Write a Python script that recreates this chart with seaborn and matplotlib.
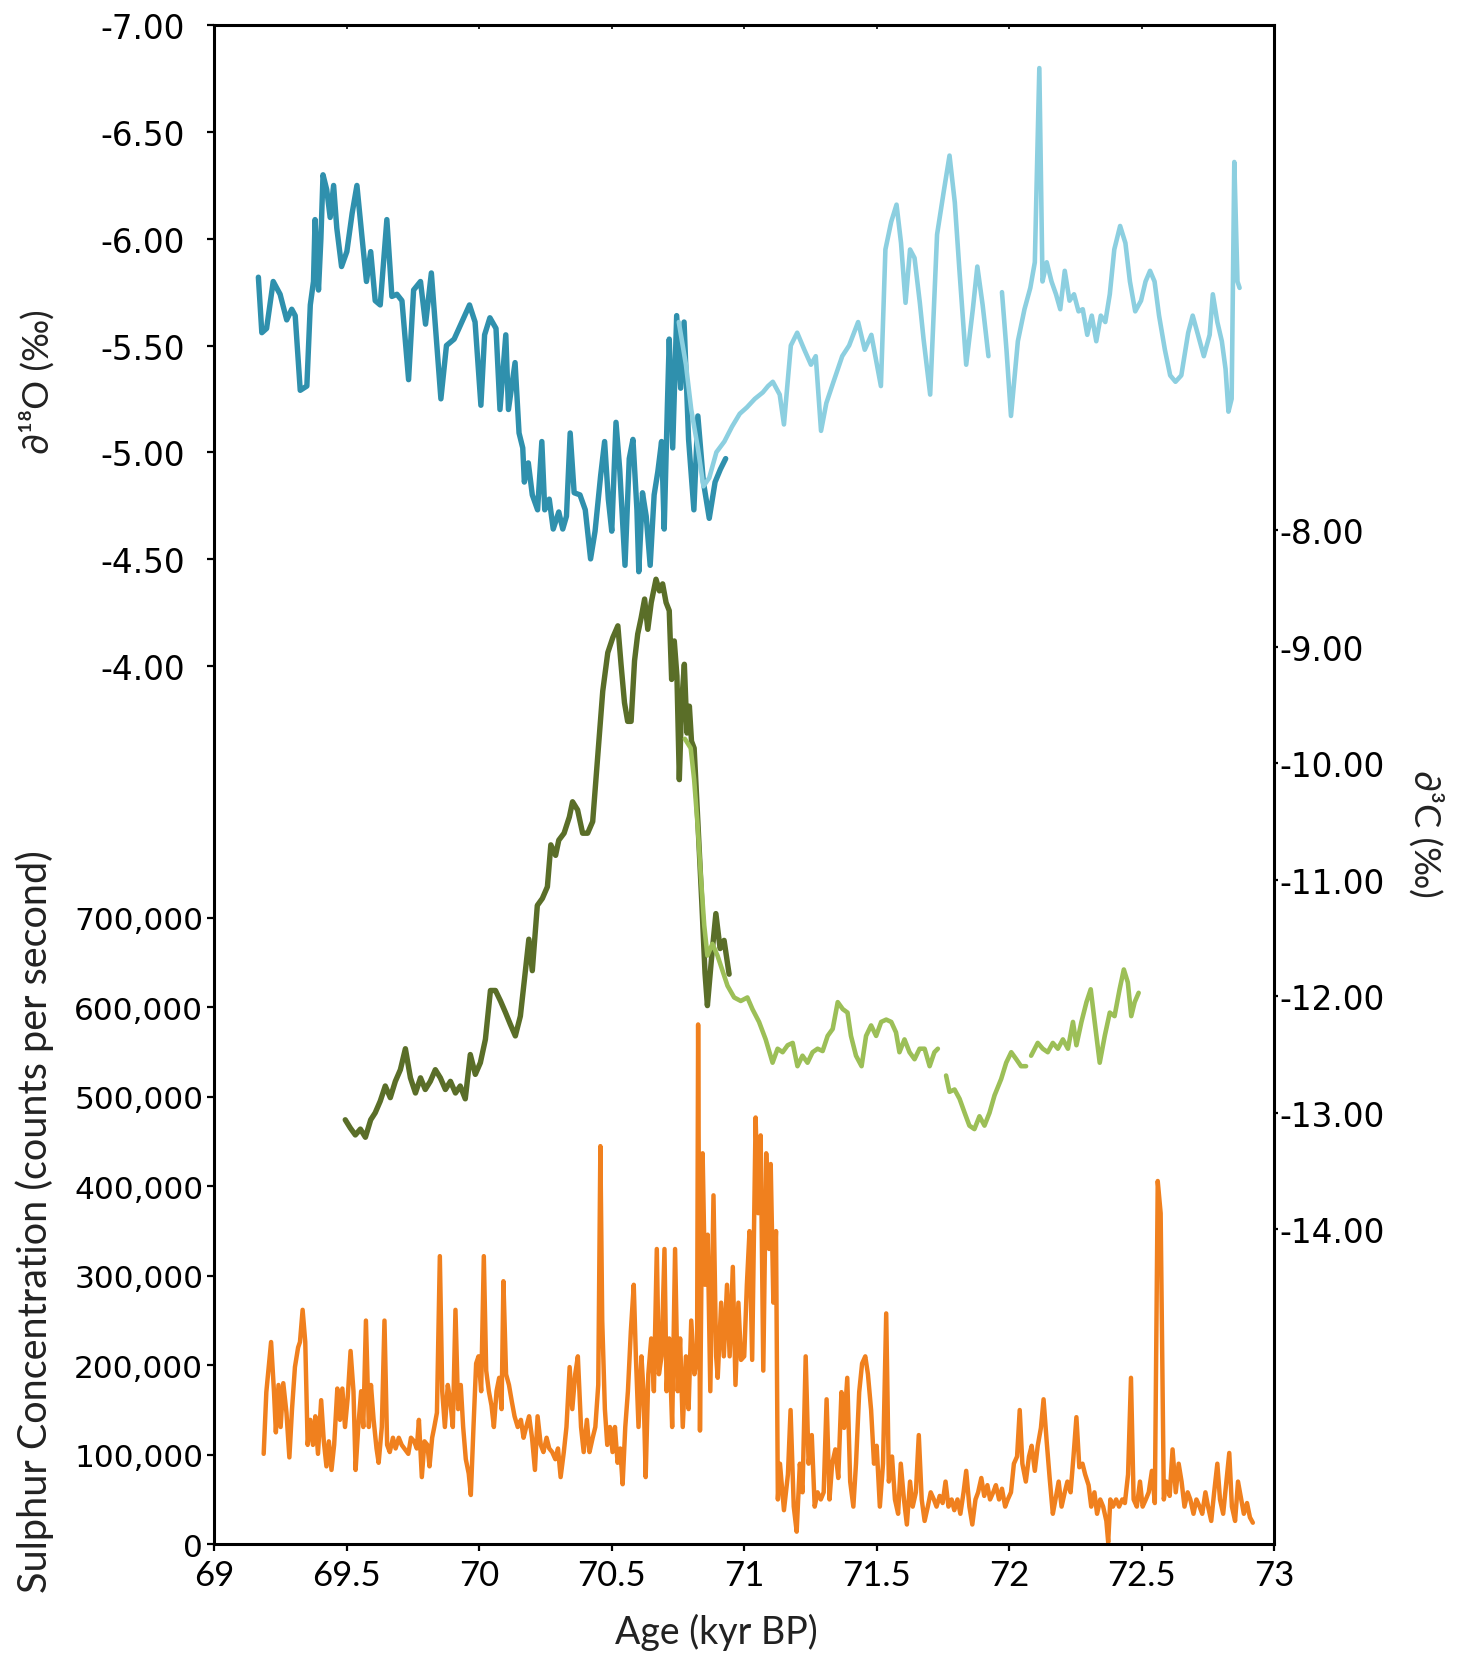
import matplotlib
matplotlib.use("Agg")
import matplotlib.pyplot as plt
import numpy as np
import pandas as pd
import seaborn as sns

# ---------------------------------------------------------------- data
# delta-18O, first record (dark teal)
d18o_a_age = [69.166, 69.179, 69.197, 69.222, 69.248, 69.273, 69.292, 69.305, 69.324, 69.349,
              69.362, 69.374, 69.380, 69.393, 69.402, 69.410, 69.424, 69.437, 69.450, 69.462,
              69.480, 69.500, 69.520, 69.538, 69.557, 69.574, 69.590, 69.607, 69.626, 69.651,
              69.670, 69.689, 69.708, 69.733, 69.752, 69.778, 69.797, 69.819, 69.855, 69.876,
              69.905, 69.934, 69.963, 69.984, 70.006, 70.020, 70.040, 70.063, 70.078, 70.100,
              70.110, 70.135, 70.150, 70.164, 70.170, 70.185, 70.200, 70.220, 70.236, 70.247,
              70.264, 70.279, 70.300, 70.315, 70.329, 70.343, 70.358, 70.380, 70.400, 70.420,
              70.437, 70.458, 70.473, 70.487, 70.500, 70.516, 70.530, 70.550, 70.566, 70.580,
              70.595, 70.602, 70.616, 70.630, 70.645, 70.660, 70.674, 70.688, 70.698, 70.710,
              70.717, 70.730, 70.745, 70.760, 70.773, 70.790, 70.810, 70.825, 70.846, 70.868,
              70.890, 70.910, 70.930]
d18o_a_val = [-5.82, -5.56, -5.58, -5.80, -5.74, -5.62, -5.67, -5.64, -5.29, -5.31,
              -5.69, -5.80, -6.09, -5.76, -6.00, -6.30, -6.23, -6.10, -6.25, -6.05,
              -5.87, -5.94, -6.12, -6.25, -6.01, -5.80, -5.94, -5.71, -5.69, -6.09,
              -5.73, -5.74, -5.71, -5.34, -5.76, -5.80, -5.60, -5.84, -5.25, -5.50,
              -5.53, -5.61, -5.69, -5.61, -5.22, -5.55, -5.63, -5.58, -5.20, -5.55,
              -5.20, -5.42, -5.09, -5.02, -4.86, -4.95, -4.80, -4.73, -5.05, -4.73,
              -4.78, -4.64, -4.72, -4.64, -4.70, -5.09, -4.81, -4.80, -4.73, -4.50,
              -4.63, -4.89, -5.05, -4.78, -4.63, -5.14, -4.92, -4.47, -4.97, -5.06,
              -4.73, -4.44, -4.81, -4.70, -4.47, -4.80, -4.91, -5.05, -4.64, -5.22,
              -5.53, -5.02, -5.64, -5.30, -5.61, -5.06, -4.73, -5.17, -4.86, -4.69,
              -4.86, -4.92, -4.97]

# delta-18O, second record (light blue); NaN marks a hiatus
d18o_b_age = [70.753, 70.780, 70.800, 70.825, 70.846, 70.868, 70.895, 70.925, 70.954, 70.983,
              71.010, 71.040, 71.070, 71.090, 71.108, 71.134, 71.150, 71.176, 71.200, 71.227,
              71.252, 71.270, 71.290, 71.310, 71.337, 71.370, 71.396, 71.430, 71.455, 71.480,
              71.516, 71.533, 71.555, 71.575, 71.592, 71.609, 71.626, 71.643, 71.663, 71.677,
              71.702, 71.728, 71.753, 71.775, 71.795, 71.812, 71.838, 71.863, 71.880, 71.900,
              71.922, 71.950, 71.973, 71.990, 72.007, 72.033, 72.058, 72.080, 72.097, 72.114,
              72.126, 72.142, 72.160, 72.177, 72.193, 72.210, 72.228, 72.245, 72.262, 72.278,
              72.295, 72.312, 72.329, 72.346, 72.363, 72.380, 72.397, 72.419, 72.439, 72.456,
              72.476, 72.498, 72.515, 72.532, 72.549, 72.566, 72.588, 72.608, 72.628, 72.650,
              72.676, 72.693, 72.713, 72.735, 72.757, 72.769, 72.786, 72.803, 72.817, 72.828,
              72.840, 72.850, 72.862, 72.870]
d18o_b_val = [-5.61, -5.41, -5.20, -5.02, -4.84, -4.88, -5.00, -5.05, -5.12, -5.18,
              -5.21, -5.25, -5.28, -5.31, -5.33, -5.27, -5.13, -5.50, -5.56, -5.48,
              -5.41, -5.45, -5.10, -5.23, -5.33, -5.45, -5.50, -5.61, -5.48, -5.55,
              -5.31, -5.95, -6.08, -6.16, -5.98, -5.70, -5.95, -5.91, -5.70, -5.53,
              -5.27, -6.02, -6.22, -6.39, -6.17, -5.86, -5.41, -5.67, -5.87, -5.69,
              -5.45, np.nan, -5.75, -5.48, -5.17, -5.52, -5.67, -5.77, -5.89, -6.80,
              -5.80, -5.89, -5.80, -5.74, -5.67, -5.85, -5.71, -5.74, -5.66, -5.67,
              -5.55, -5.64, -5.52, -5.64, -5.61, -5.74, -5.95, -6.06, -5.98, -5.80,
              -5.66, -5.71, -5.80, -5.85, -5.80, -5.64, -5.48, -5.36, -5.33, -5.36,
              -5.56, -5.64, -5.55, -5.45, -5.55, -5.74, -5.61, -5.52, -5.39, -5.19,
              -5.25, -6.36, -5.80, -5.77]

# delta-13C, first record (dark olive)
d13c_a_age = [69.494, 69.513, 69.532, 69.551, 69.570, 69.590, 69.607, 69.626, 69.645, 69.664,
              69.683, 69.702, 69.721, 69.740, 69.759, 69.778, 69.796, 69.815, 69.834, 69.853,
              69.872, 69.891, 69.910, 69.928, 69.947, 69.966, 69.985, 70.004, 70.023, 70.042,
              70.061, 70.080, 70.099, 70.117, 70.136, 70.155, 70.174, 70.187, 70.200, 70.219,
              70.238, 70.257, 70.270, 70.288, 70.300, 70.320, 70.340, 70.352, 70.371, 70.390,
              70.409, 70.428, 70.447, 70.466, 70.485, 70.504, 70.523, 70.535, 70.548, 70.560,
              70.573, 70.586, 70.598, 70.611, 70.624, 70.636, 70.649, 70.667, 70.680, 70.692,
              70.705, 70.717, 70.726, 70.736, 70.746, 70.755, 70.764, 70.774, 70.784, 70.793,
              70.801, 70.811, 70.825, 70.840, 70.852, 70.861, 70.876, 70.893, 70.909, 70.924,
              70.943]
d13c_a_val = [-13.06, -13.13, -13.19, -13.14, -13.21, -13.06, -13.00, -12.90, -12.77, -12.87,
              -12.73, -12.63, -12.45, -12.70, -12.83, -12.70, -12.80, -12.73, -12.63, -12.70,
              -12.80, -12.73, -12.83, -12.77, -12.88, -12.50, -12.67, -12.57, -12.37, -11.95,
              -11.95, -12.04, -12.14, -12.24, -12.34, -12.17, -11.78, -11.51, -11.78, -11.22,
              -11.16, -11.06, -10.70, -10.79, -10.66, -10.60, -10.46, -10.33, -10.40, -10.60,
              -10.60, -10.50, -9.94, -9.38, -9.05, -8.92, -8.82, -9.15, -9.48, -9.64,
              -9.64, -9.12, -8.89, -8.75, -8.59, -8.85, -8.62, -8.42, -8.52, -8.46,
              -8.62, -8.69, -9.28, -8.95, -9.25, -10.14, -9.48, -9.15, -9.74, -9.51,
              -9.81, -9.87, -10.50, -11.20, -11.80, -12.08, -11.69, -11.29, -11.59, -11.52,
              -11.81]

# delta-13C, second record (light green); NaN marks a hiatus
d13c_b_age = [70.776, 70.798, 70.811, 70.824, 70.836, 70.849, 70.861, 70.880, 70.899, 70.918,
              70.937, 70.962, 70.987, 71.012, 71.031, 71.056, 71.081, 71.107, 71.126, 71.145,
              71.164, 71.183, 71.201, 71.220, 71.239, 71.258, 71.277, 71.296, 71.315, 71.334,
              71.353, 71.372, 71.390, 71.403, 71.422, 71.443, 71.460, 71.479, 71.498, 71.517,
              71.536, 71.555, 71.573, 71.586, 71.605, 71.624, 71.643, 71.662, 71.681, 71.700,
              71.718, 71.731, 71.746, 71.762, 71.775, 71.794, 71.813, 71.832, 71.850, 71.869,
              71.888, 71.907, 71.926, 71.945, 71.970, 71.989, 72.008, 72.027, 72.045, 72.064,
              72.073, 72.083, 72.108, 72.127, 72.146, 72.165, 72.184, 72.203, 72.222, 72.241,
              72.254, 72.273, 72.292, 72.308, 72.323, 72.342, 72.361, 72.380, 72.398, 72.417,
              72.433, 72.448, 72.461, 72.474, 72.489]
d13c_b_val = [-9.79, -9.87, -10.14, -10.53, -10.96, -11.39, -11.65, -11.55, -11.65, -11.78,
              -11.91, -12.01, -12.04, -12.01, -12.11, -12.22, -12.37, -12.57, -12.45, -12.48,
              -12.42, -12.40, -12.60, -12.51, -12.57, -12.48, -12.45, -12.47, -12.34, -12.28,
              -12.05, -12.11, -12.14, -12.34, -12.51, -12.60, -12.34, -12.25, -12.34, -12.22,
              -12.20, -12.22, -12.31, -12.48, -12.37, -12.48, -12.54, -12.45, -12.45, -12.60,
              -12.48, -12.45, np.nan, -12.68, -12.82, -12.80, -12.88, -13.00, -13.11, -13.14,
              -13.03, -13.11, -13.00, -12.85, -12.71, -12.57, -12.48, -12.54, -12.60, -12.60,
              np.nan, -12.51, -12.40, -12.45, -12.48, -12.40, -12.45, -12.37, -12.45, -12.22,
              -12.42, -12.22, -12.05, -11.94, -12.22, -12.57, -12.34, -12.14, -12.17, -11.94,
              -11.77, -11.88, -12.17, -12.05, -11.97]

# Sulphur concentration (thousand counts per second)
sulphur_age = [69.186, 69.196, 69.214, 69.225, 69.232, 69.242, 69.250, 69.260, 69.272, 69.283,
               69.293, 69.304, 69.316, 69.323, 69.333, 69.343, 69.352, 69.362, 69.372, 69.381,
               69.391, 69.403, 69.413, 69.423, 69.432, 69.442, 69.452, 69.464, 69.474, 69.483,
               69.493, 69.503, 69.514, 69.525, 69.533, 69.543, 69.554, 69.562, 69.572, 69.583,
               69.591, 69.601, 69.612, 69.620, 69.632, 69.642, 69.652, 69.662, 69.674, 69.684,
               69.696, 69.707, 69.717, 69.732, 69.742, 69.754, 69.764, 69.772, 69.783, 69.793,
               69.804, 69.812, 69.822, 69.830, 69.840, 69.851, 69.860, 69.870, 69.881, 69.891,
               69.900, 69.910, 69.920, 69.930, 69.939, 69.949, 69.960, 69.968, 69.978, 69.988,
               69.997, 70.007, 70.017, 70.026, 70.036, 70.046, 70.055, 70.065, 70.075, 70.084,
               70.091, 70.101, 70.112, 70.123, 70.133, 70.145, 70.157, 70.167, 70.177, 70.188,
               70.199, 70.210, 70.220, 70.232, 70.242, 70.254, 70.264, 70.275, 70.287, 70.297,
               70.307, 70.319, 70.329, 70.341, 70.351, 70.362, 70.372, 70.384, 70.394, 70.406,
               70.416, 70.428, 70.438, 70.449, 70.457, 70.464, 70.474, 70.483, 70.493, 70.503,
               70.512, 70.522, 70.532, 70.541, 70.551, 70.561, 70.572, 70.583, 70.591, 70.601,
               70.612, 70.620, 70.628, 70.638, 70.649, 70.659, 70.670, 70.678, 70.688, 70.699,
               70.707, 70.717, 70.728, 70.739, 70.749, 70.758, 70.768, 70.780, 70.790, 70.800,
               70.812, 70.822, 70.826, 70.833, 70.843, 70.852, 70.862, 70.872, 70.884, 70.894,
               70.900, 70.913, 70.923, 70.935, 70.945, 70.957, 70.967, 70.978, 70.988, 71.000,
               71.010, 71.020, 71.030, 71.043, 71.053, 71.062, 71.072, 71.083, 71.094, 71.100,
               71.110, 71.120, 71.127, 71.135, 71.150, 71.165, 71.175, 71.187, 71.198, 71.210,
               71.220, 71.232, 71.243, 71.255, 71.266, 71.277, 71.289, 71.300, 71.311, 71.322,
               71.332, 71.344, 71.355, 71.367, 71.377, 71.389, 71.400, 71.412, 71.422, 71.434,
               71.445, 71.457, 71.467, 71.479, 71.490, 71.500, 71.512, 71.524, 71.536, 71.546,
               71.558, 71.569, 71.581, 71.591, 71.603, 71.614, 71.626, 71.636, 71.648, 71.659,
               71.670, 71.681, 71.693, 71.704, 71.716, 71.726, 71.738, 71.749, 71.760, 71.771,
               71.783, 71.793, 71.805, 71.816, 71.828, 71.838, 71.850, 71.861, 71.873, 71.883,
               71.895, 71.906, 71.918, 71.928, 71.940, 71.950, 71.962, 71.973, 71.985, 71.995,
               72.007, 72.018, 72.030, 72.040, 72.050, 72.063, 72.075, 72.085, 72.097, 72.108,
               72.120, 72.130, 72.142, 72.153, 72.165, 72.175, 72.187, 72.198, 72.210, 72.220,
               72.232, 72.243, 72.254, 72.265, 72.277, 72.287, 72.300, 72.310, 72.322, 72.332,
               72.344, 72.355, 72.367, 72.374, 72.382, 72.392, 72.404, 72.415, 72.427, 72.437,
               72.449, 72.460, 72.470, 72.482, 72.494, 72.504, 72.516, 72.527, 72.539, 72.550,
               72.561, 72.572, 72.584, 72.594, 72.606, 72.617, 72.629, 72.640, 72.651, 72.662,
               72.674, 72.684, 72.696, 72.707, 72.719, 72.729, 72.741, 72.751, 72.763, 72.774,
               72.786, 72.796, 72.808, 72.819, 72.831, 72.841, 72.853, 72.864, 72.876, 72.886,
               72.898, 72.909, 72.920]
sulphur_kcps = [101, 170, 226, 170, 125, 178, 131, 180, 147, 97,
                151, 198, 220, 226, 262, 226, 111, 139, 111, 143,
                101, 161, 115, 87, 115, 83, 111, 174, 139, 174,
                131, 163, 216, 171, 83, 131, 171, 131, 250, 131,
                178, 139, 107, 91, 131, 250, 111, 103, 119, 107,
                119, 111, 107, 101, 119, 115, 107, 139, 75, 115,
                111, 87, 119, 131, 147, 322, 171, 131, 178, 159,
                131, 262, 151, 178, 131, 95, 79, 55, 131, 202,
                210, 171, 322, 194, 171, 155, 131, 171, 186, 151,
                294, 190, 178, 159, 143, 131, 139, 119, 131, 143,
                119, 83, 143, 111, 103, 119, 107, 103, 95, 107,
                75, 103, 131, 198, 151, 190, 210, 131, 103, 139,
                103, 119, 131, 178, 445, 250, 151, 111, 131, 103,
                131, 91, 107, 67, 131, 171, 238, 290, 210, 131,
                210, 171, 75, 190, 230, 171, 330, 190, 210, 330,
                171, 230, 131, 330, 171, 230, 131, 210, 151, 250,
                190, 210, 581, 127, 437, 290, 346, 171, 390, 210,
                186, 270, 210, 290, 210, 310, 178, 270, 206, 210,
                290, 350, 206, 477, 370, 457, 194, 437, 330, 425,
                270, 350, 50, 90, 38, 78, 150, 42, 14, 90,
                58, 210, 90, 122, 42, 58, 50, 58, 162, 50,
                90, 106, 74, 170, 130, 186, 70, 42, 90, 170,
                202, 210, 190, 150, 90, 110, 42, 90, 258, 70,
                98, 50, 34, 90, 50, 22, 70, 42, 58, 122,
                50, 26, 42, 58, 50, 42, 54, 46, 70, 42,
                50, 38, 50, 34, 58, 82, 42, 22, 50, 58,
                74, 54, 66, 50, 58, 66, 50, 62, 42, 50,
                58, 90, 98, 150, 90, 70, 98, 110, 82, 110,
                130, 162, 114, 74, 34, 50, 70, 42, 58, 70,
                58, 98, 142, 86, 90, 78, 66, 42, 58, 34,
                50, 42, 26, 2, 50, 42, 50, 42, 50, 46,
                78, 186, 50, 42, 70, 42, 50, 58, 82, 46,
                406, 370, 50, 70, 54, 106, 58, 90, 70, 42,
                58, 50, 34, 50, 42, 34, 58, 42, 26, 58,
                90, 50, 34, 66, 102, 42, 26, 70, 50, 34,
                46, 30, 24]

# axis ticks
age_ticks = [69, 69.5, 70, 70.5, 71, 71.5, 72, 72.5, 73]
age_tick_labels = ["69", "69.5", "70", "70.5", "71", "71.5", "72", "72.5", "73"]
d18o_ticks = [-7.0, -6.5, -6.0, -5.5, -5.0, -4.5, -4.0]
d18o_tick_labels = ["-7.00", "-6.50", "-6.00", "-5.50", "-5.00", "-4.50", "-4.00"]
sulphur_ticks = [0, 100000, 200000, 300000, 400000, 500000, 600000, 700000]
sulphur_tick_labels = ["0", "100,000", "200,000", "300,000", "400,000",
                       "500,000", "600,000", "700,000"]
d13c_ticks = [-8, -9, -10, -11, -12, -13, -14]
d13c_tick_labels = ["-8.00", "-9.00", "-10.00", "-11.00", "-12.00", "-13.00", "-14.00"]

# ---------------------------------------------------------------- style
sns.set_theme(style="white")
plt.rcParams["font.family"] = ["DejaVu Sans"]
plt.rcParams["axes.unicode_minus"] = False
plt.rcParams["lines.solid_joinstyle"] = "round"
plt.rcParams["lines.solid_capstyle"] = "round"
NARROW = ["Lato", "DejaVu Sans"]

C_TEAL, C_SKY = "#2f90ad", "#8ccfe0"
C_OLIVE, C_LIME = "#5a6e28", "#9cbf57"
C_ORANGE = "#f0801e"


def frame(age, val):
    """Long table with a segment id that increments after every NaN gap."""
    val = np.asarray(val, dtype=float)
    seg = np.cumsum(np.isnan(val))
    df = pd.DataFrame({"age": age, "value": val, "seg": seg})
    return df.dropna()


def draw(df, ax, color, lw, z=2):
    sns.lineplot(data=df, x="age", y="value", units="seg", estimator=None,
                 sort=False, color=color, linewidth=lw, ax=ax, legend=False,
                 zorder=z)


fig = plt.figure(figsize=(14.66, 16.56), dpi=100)
ax_s = fig.add_axes([0.14625, 0.06691, 0.7228, 0.91715])
ax_c = ax_s.twinx()
ax_o = ax_s.twinx()

# sulphur (bottom layer)
sul = pd.DataFrame({"age": sulphur_age,
                    "value": np.asarray(sulphur_kcps, dtype=float) * 1000,
                    "seg": 0})
draw(sul, ax_s, C_ORANGE, 3.2)

# delta-13C
draw(frame(d13c_a_age, d13c_a_val), ax_c, C_OLIVE, 3.9)
draw(frame(d13c_b_age, d13c_b_val), ax_c, C_LIME, 3.3)

# delta-18O
draw(frame(d18o_a_age, d18o_a_val), ax_o, C_TEAL, 3.9)
draw(frame(d18o_b_age, d18o_b_val), ax_o, C_SKY, 3.3)

# ---------------------------------------------------------------- axes
ax_s.set_xlim(69, 73)
ax_s.set_ylim(0, 1697800)
ax_c.set_ylim(-16.703, -3.666)
ax_o.set_ylim(0.117, -7.0)

for a in (ax_s, ax_c, ax_o):
    a.set_xlabel("")
    a.set_ylabel("")
    a.grid(False)
    a.patch.set_visible(False)
    for sp in a.spines.values():
        sp.set_visible(False)

for side in ("left", "right", "top", "bottom"):
    ax_s.spines[side].set_visible(True)
    ax_s.spines[side].set_color("black")
    ax_s.spines[side].set_linewidth(2.2)

# x axis
ax_s.set_xticks(age_ticks)
ax_s.set_xticklabels(age_tick_labels, family=NARROW, fontsize=25)
ax_s.tick_params(axis="x", bottom=True, direction="out", length=5, width=1.6,
                 pad=6, colors="black")
top = ax_s.secondary_xaxis("top")
top.set_xticks(age_ticks)
top.tick_params(axis="x", direction="in", length=3, width=1.4, labeltop=False)
top.spines["top"].set_visible(False)

# sulphur axis (left, lower)
ax_s.set_yticks(sulphur_ticks)
ax_s.set_yticklabels(sulphur_tick_labels, fontsize=22.5)
ax_s.tick_params(axis="y", left=True, direction="out", length=5, width=1.6,
                 pad=3, colors="black")

# delta-18O axis (left, upper)
ax_o.yaxis.tick_left()
ax_o.set_yticks(d18o_ticks)
ax_o.set_yticklabels(d18o_tick_labels, fontsize=23.5)
ax_o.tick_params(axis="y", left=True, right=False, labelleft=True, labelright=False,
                 direction="out", length=5, width=1.6, pad=16, colors="black")

# delta-13C axis (right)
ax_c.yaxis.tick_right()
ax_c.set_yticks(d13c_ticks)
ax_c.set_yticklabels(d13c_tick_labels, fontsize=23.5)
ax_c.tick_params(axis="y", right=True, direction="out", length=3, width=1.6,
                 pad=1, colors="black")

# axis titles
fig.text(0.0252, 0.7693, "∂¹⁸O (‰)", rotation=90, ha="center", va="center",
         family=NARROW, fontsize=26, color="#222222")
fig.text(0.0239, 0.2625, "Sulphur Concentration (counts per second)", rotation=90,
         ha="center", va="center", family=NARROW, fontsize=28.5, color="#222222")
fig.text(0.9727, 0.4964, "∂³C (‰)", rotation=-90, ha="center", va="center",
         family=NARROW, fontsize=26, color="#222222")
fig.text(0.4884, 0.0145, "Age (kyr BP)", ha="center", va="center",
         family=NARROW, fontsize=27, color="#222222")

fig.savefig("out.png", dpi=100, facecolor="white")
